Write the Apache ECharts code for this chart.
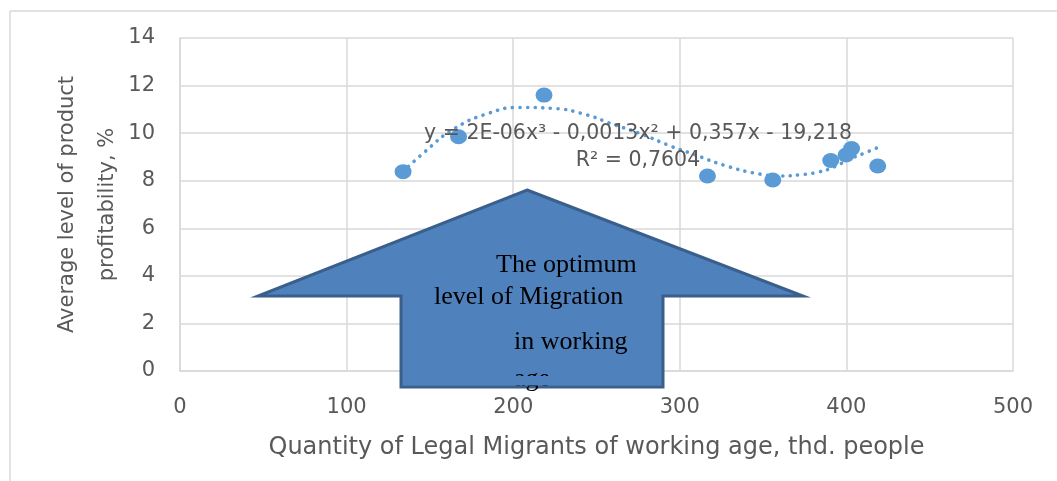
<!DOCTYPE html>
<html>
<head>
<meta charset="utf-8">
<script src="https://cdn.jsdelivr.net/npm/echarts@6/dist/echarts.min.js"></script>
<style>
  html, body { margin: 0; padding: 0; background: #ffffff; }
  #chart { width: 1057px; height: 481px; }
</style>
</head>
<body>
<div id="chart"></div>
<script>
// Scatter data: quantity of legal migrants (thd. people) vs average profitability (%)
const migrants = [133.9, 167.2, 218.5, 316.6, 355.8, 390.6, 399.8, 403.1, 418.8];
const profitability = [8.38, 9.85, 11.6, 8.2, 8.03, 8.85, 9.08, 9.35, 8.62];

// Polynomial trend line
const trendX = [134, 147, 164, 185, 204, 224, 243, 260, 276, 294, 308, 328, 348, 361, 372, 383, 393, 401, 410, 419];
const trendY = [8.38, 9.22, 10.16, 10.83, 11.08, 11.04, 10.79, 10.37, 9.99, 9.47, 9.12, 8.62, 8.28, 8.20, 8.25, 8.36, 8.59, 8.88, 9.14, 9.40];

const xTicks = [0, 100, 200, 300, 400, 500];
const yTicks = [0, 2, 4, 6, 8, 10, 12, 14];

const xTitle = 'Quantity of Legal Migrants of working age, thd. people';
const yTitle = 'Average level of product\nprofitability, %';
const equationText = 'y = 2E-06x³ - 0,0013x² + 0,357x - 19,218';
const r2Text = 'R² = 0,7604';
const arrowLines = ['The optimum', 'level of Migration', 'in working', 'age'];

const chart = echarts.init(document.getElementById('chart'), null, { renderer: 'canvas' });

const textColor = '#595959';
const gridColor = '#d9d9d9';
const blue = '#5B9BD5';
const font = 'DejaVu Sans';

const option = {
  backgroundColor: '#ffffff',
  animation: false,
  grid: { left: 180, top: 38, width: 833, height: 333, containLabel: false },
  xAxis: {
    type: 'value',
    min: xTicks[0],
    max: xTicks[xTicks.length - 1],
    interval: 100,
    name: xTitle,
    nameLocation: 'middle',
    nameGap: 63,
    nameTextStyle: { color: textColor, fontFamily: font, fontSize: 24, lineHeight: 28 },
    axisLine: { show: true, lineStyle: { color: gridColor, width: 1.5 } },
    axisTick: { show: false },
    axisLabel: { color: textColor, fontFamily: font, fontSize: 21, margin: 25, lineHeight: 24 },
    splitLine: { show: true, lineStyle: { color: gridColor, width: 1.5 } }
  },
  yAxis: {
    type: 'value',
    min: yTicks[0],
    max: yTicks[yTicks.length - 1],
    interval: 2,
    name: yTitle,
    nameLocation: 'middle',
    nameGap: 52,
    nameMoveOverlap: false,
    nameTextStyle: { color: textColor, fontFamily: font, fontSize: 21, lineHeight: 40 },
    axisLine: { show: true, lineStyle: { color: gridColor, width: 1.5 } },
    axisTick: { show: false },
    axisLabel: { color: textColor, fontFamily: font, fontSize: 21, margin: 25, padding: [5, 0, 0, 0] },
    splitLine: { show: true, lineStyle: { color: gridColor, width: 1.5 } }
  },
  series: [
    {
      name: 'Trend',
      type: 'line',
      data: trendX.map((x, i) => [x, trendY[i]]),
      smooth: 0.5,
      showSymbol: false,
      symbol: 'none',
      silent: true,
      z: 3,
      lineStyle: { color: blue, width: 3.6, type: [0.1, 7.5], cap: 'round' }
    },
    {
      name: 'Data',
      type: 'scatter',
      data: migrants.map((x, i) => [x, profitability[i]]),
      symbol: 'circle',
      symbolSize: [17, 15],
      z: 4,
      itemStyle: { color: blue, opacity: 1 }
    }
  ],
  graphic: [
    // chart area border (top and left)
    { type: 'line', z: 1, shape: { x1: 10, y1: 11, x2: 1057, y2: 11 }, style: { stroke: gridColor, lineWidth: 1.5 } },
    { type: 'line', z: 1, shape: { x1: 10, y1: 11, x2: 10, y2: 481 }, style: { stroke: gridColor, lineWidth: 1.5 } },
    // trend equation
    { type: 'text', z: 20, x: 638, y: 134, style: { text: equationText, fill: textColor, font: '20.5px "DejaVu Sans"', textAlign: 'center', textVerticalAlign: 'middle', verticalAlign: 'middle' } },
    { type: 'text', z: 20, x: 638, y: 161, style: { text: r2Text, fill: textColor, font: '20.5px "DejaVu Sans"', textAlign: 'center', textVerticalAlign: 'middle', verticalAlign: 'middle' } },
    // up arrow annotation
    { type: 'polygon', z: 30, shape: { points: [[527, 190], [803, 296], [663, 296], [663, 387], [401, 387], [401, 296], [258, 296]] },
      style: { fill: '#4F81BD', stroke: '#3A5F8B', lineWidth: 3, lineJoin: 'miter' } },
    { type: 'text', z: 31, x: 496, y: 265, style: { text: arrowLines[0], fill: '#000000', font: '26px "Liberation Serif"', textAlign: 'left', textVerticalAlign: 'middle', verticalAlign: 'middle' } },
    { type: 'text', z: 31, x: 434, y: 297, style: { text: arrowLines[1], fill: '#000000', font: '26px "Liberation Serif"', textAlign: 'left', textVerticalAlign: 'middle', verticalAlign: 'middle' } },
    { type: 'text', z: 31, x: 514, y: 342, style: { text: arrowLines[2], fill: '#000000', font: '26px "Liberation Serif"', textAlign: 'left', textVerticalAlign: 'middle', verticalAlign: 'middle' } },
    { type: 'text', z: 31, x: 514, y: 379, style: { text: arrowLines[3], fill: '#000000', font: '26px "Liberation Serif"', textAlign: 'left', textVerticalAlign: 'middle', verticalAlign: 'middle' } },
    // text box clipping of the last line
    { type: 'rect', z: 32, shape: { x: 403, y: 376, width: 258, height: 9.5 }, style: { fill: '#4F81BD' } }
  ]
};

chart.setOption(option);
</script>
</body>
</html>
